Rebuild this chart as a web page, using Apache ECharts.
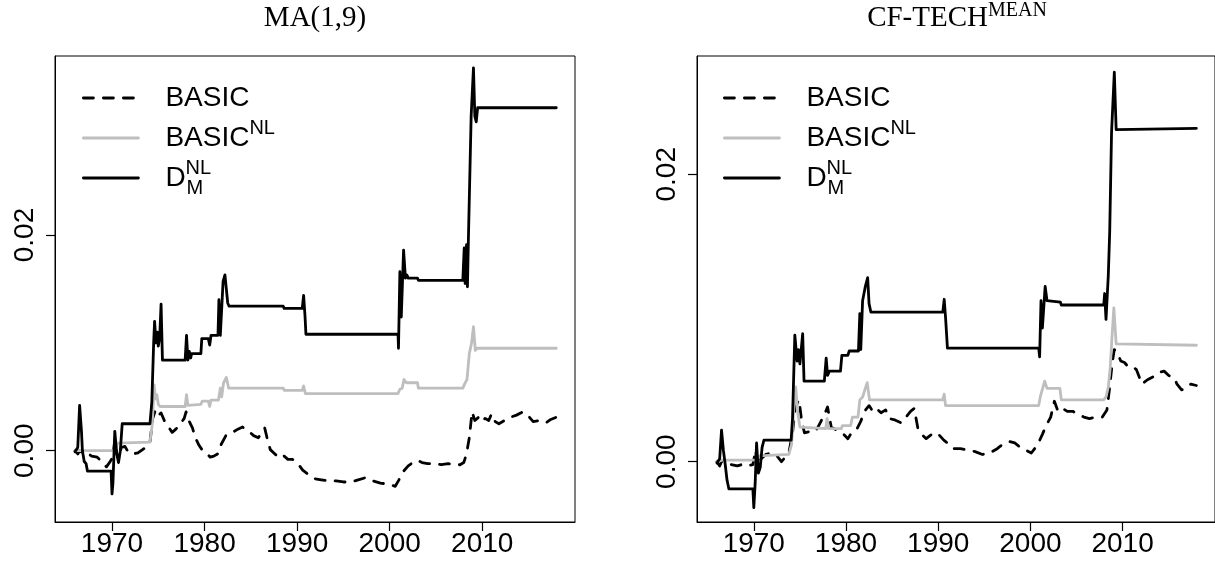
<!DOCTYPE html>
<html>
<head>
<meta charset="utf-8">
<script src="https://cdn.jsdelivr.net/npm/echarts@6.0.0/dist/echarts.min.js"></script>
<style>
  html, body { margin: 0; padding: 0; background: #fff; }
  #chart { width: 1215px; height: 565px; }
</style>
</head>
<body>
<div id="chart"></div>
<script>
// Axis ticks shared by both panels
const yearTicks = [1970, 1980, 1990, 2000, 2010];
const valueTicks = [0, 0.02];

// Panel titles
const leftTitle = 'MA(1,9)';
const rightTitle = ['CF-TECH', 'MEAN'];

// ---- MA(1,9) panel: [year, value] ----
const maBasic = [
  [1966.0, 0.0000], [1966.3, -0.0003], [1966.5, 0.0000], [1966.8, -0.0002], [1967.3, -0.0002],
  [1967.8, -0.0005], [1968.4, -0.0006], [1968.9, -0.0010], [1969.4, -0.0015], [1969.8, -0.0010],
  [1970.1, -0.0006], [1970.3, 0.0010], [1970.5, -0.0002], [1970.7, -0.0008], [1971.0, 0.0003],
  [1971.4, 0.0004], [1971.8, -0.0002], [1972.3, -0.0003], [1972.8, -0.0002], [1973.3, 0.0001],
  [1973.8, 0.0004], [1974.1, 0.0008], [1974.4, 0.0030], [1974.7, 0.0038], [1975.0, 0.0033],
  [1975.3, 0.0035], [1975.7, 0.0027], [1976.1, 0.0022], [1976.5, 0.0017], [1976.9, 0.0020],
  [1977.4, 0.0025], [1977.8, 0.0030], [1978.0, 0.0036], [1978.3, 0.0028], [1978.7, 0.0021],
  [1979.0, 0.0012], [1979.4, 0.0005], [1979.8, 0.0000], [1980.2, -0.0002], [1980.6, -0.0006],
  [1981.0, -0.0005], [1981.4, -0.0003], [1981.8, 0.0006], [1982.3, 0.0014], [1982.7, 0.0015],
  [1983.2, 0.0018], [1983.6, 0.0020], [1984.1, 0.0022], [1984.5, 0.0019], [1984.9, 0.0017],
  [1985.3, 0.0014], [1985.8, 0.0012], [1986.2, 0.0017], [1986.5, 0.0021], [1986.8, 0.0010],
  [1987.1, 0.0001], [1987.6, -0.0003], [1988.1, -0.0007], [1988.6, -0.0005], [1989.0, -0.0008],
  [1989.5, -0.0008], [1990.0, -0.0011], [1990.6, -0.0018], [1991.2, -0.0022], [1991.9, -0.0026],
  [1992.6, -0.0027], [1993.4, -0.0028], [1994.2, -0.0028], [1995.0, -0.0029], [1995.8, -0.0029],
  [1996.6, -0.0027], [1997.4, -0.0025], [1998.2, -0.0028], [1999.0, -0.0030], [1999.8, -0.0031],
  [2000.6, -0.0033], [2001.0, -0.0027], [2001.5, -0.0019], [2002.0, -0.0014], [2002.5, -0.0011],
  [2003.0, -0.0009], [2003.5, -0.0011], [2004.1, -0.0012], [2004.8, -0.0012], [2005.6, -0.0013],
  [2006.3, -0.0012], [2007.0, -0.0013], [2007.6, -0.0013], [2008.0, -0.0011], [2008.3, -0.0003],
  [2008.6, 0.0012], [2008.9, 0.0036], [2009.2, 0.0028], [2009.6, 0.0031], [2009.9, 0.0027],
  [2010.3, 0.0030], [2010.7, 0.0028], [2011.0, 0.0034], [2011.4, 0.0027], [2011.8, 0.0025],
  [2012.4, 0.0028], [2013.0, 0.0031], [2013.7, 0.0033], [2014.4, 0.0036], [2015.0, 0.0032],
  [2015.5, 0.0027], [2016.2, 0.0028], [2016.9, 0.0026], [2017.4, 0.0029], [2018.0, 0.0031]
];

const maBasicNL = [
  [1966.0, 0.0000], [1966.4, 0.0000], [1970.3, 0.0000], [1970.6, 0.0007], [1974.1, 0.0008],
  [1974.35, 0.0025], [1974.55, 0.0061], [1974.7, 0.0048], [1974.85, 0.0052], [1975.0, 0.0043],
  [1975.2, 0.0041], [1977.9, 0.0041], [1978.05, 0.0052], [1978.2, 0.0042], [1979.6, 0.0043],
  [1979.75, 0.0046], [1980.4, 0.0046], [1980.55, 0.0041], [1980.7, 0.0047], [1981.5, 0.0047],
  [1981.7, 0.0058], [1981.85, 0.0050], [1982.05, 0.0063], [1982.35, 0.0068], [1982.6, 0.0058],
  [1988.5, 0.0058], [1988.6, 0.0056], [1990.55, 0.0056], [1990.7, 0.0060], [1990.9, 0.0053],
  [2000.9, 0.0053], [2001.1, 0.0057], [2001.35, 0.0058], [2001.55, 0.0066], [2001.8, 0.0063],
  [2003.0, 0.0063], [2003.1, 0.0058], [2007.9, 0.0058], [2008.1, 0.0062], [2008.35, 0.0066],
  [2008.6, 0.0090], [2008.85, 0.0100], [2009.05, 0.0115], [2009.25, 0.0093], [2009.45, 0.0095],
  [2018.0, 0.0095]
];

const maDNL = [
  [1966.0, -0.0001], [1966.3, 0.0003], [1966.5, 0.0042], [1966.7, 0.0018], [1966.8, 0.0000],
  [1967.0, -0.0010], [1967.2, -0.0012], [1967.35, -0.0019], [1969.9, -0.0019], [1970.0, -0.0040],
  [1970.1, -0.0030], [1970.3, 0.0018], [1970.5, -0.0002], [1970.7, -0.0011], [1970.9, 0.0000],
  [1971.1, 0.0025], [1974.1, 0.0025], [1974.3, 0.0045], [1974.5, 0.0100], [1974.6, 0.0120],
  [1974.75, 0.0100], [1974.9, 0.0110], [1975.0, 0.0097], [1975.15, 0.0105], [1975.3, 0.0136],
  [1975.45, 0.0084], [1977.9, 0.0084], [1978.05, 0.0107], [1978.2, 0.0084], [1978.35, 0.0092],
  [1978.5, 0.0086], [1978.6, 0.0090], [1979.6, 0.0090], [1979.7, 0.0104], [1980.4, 0.0104],
  [1980.55, 0.0098], [1980.7, 0.0107], [1981.45, 0.0107], [1981.55, 0.0140], [1981.7, 0.0107],
  [1982.0, 0.0157], [1982.2, 0.0163], [1982.35, 0.0150], [1982.5, 0.0137], [1982.65, 0.0134],
  [1988.5, 0.0134], [1988.6, 0.0132], [1990.55, 0.0132], [1990.7, 0.0144], [1990.85, 0.0125],
  [1990.95, 0.0108], [2000.9, 0.0108], [2000.95, 0.0095], [2001.1, 0.0166], [2001.25, 0.0124],
  [2001.5, 0.0186], [2001.7, 0.0160], [2001.85, 0.0163], [2002.0, 0.0160], [2003.0, 0.0160],
  [2003.1, 0.0158], [2007.9, 0.0158], [2008.05, 0.0188], [2008.15, 0.0155], [2008.3, 0.0191],
  [2008.4, 0.0152], [2008.5, 0.0195], [2008.8, 0.0310], [2009.05, 0.0355], [2009.2, 0.0310],
  [2009.35, 0.0305], [2009.5, 0.0318], [2018.0, 0.0318]
];

// ---- CF-TECH (MEAN) panel: [year, value] ----
const cfBasic = [
  [1966.0, 0.0000], [1966.3, -0.0003], [1966.5, 0.0000], [1966.9, -0.0001], [1967.5, -0.0002],
  [1968.2, -0.0003], [1968.7, -0.0002], [1969.3, -0.0003], [1969.9, -0.0002], [1970.2, 0.0008],
  [1970.4, -0.0003], [1970.8, 0.0002], [1971.3, 0.0005], [1971.9, 0.0006], [1972.5, 0.0004],
  [1973.0, 0.0000], [1973.4, 0.0003], [1973.8, 0.0006], [1974.2, 0.0020], [1974.5, 0.0038],
  [1974.9, 0.0043], [1975.2, 0.0028], [1975.5, 0.0020], [1976.1, 0.0021], [1976.7, 0.0021],
  [1977.2, 0.0027], [1977.6, 0.0032], [1978.0, 0.0038], [1978.4, 0.0024], [1979.0, 0.0022],
  [1979.6, 0.0020], [1980.2, 0.0016], [1980.7, 0.0021], [1981.2, 0.0023], [1981.6, 0.0028],
  [1982.0, 0.0035], [1982.5, 0.0039], [1982.9, 0.0035], [1983.3, 0.0037], [1983.8, 0.0034],
  [1984.3, 0.0036], [1984.7, 0.0030], [1985.3, 0.0029], [1986.0, 0.0027], [1986.5, 0.0031],
  [1987.0, 0.0035], [1987.4, 0.0037], [1987.8, 0.0023], [1988.2, 0.0019], [1988.7, 0.0016],
  [1989.3, 0.0019], [1989.9, 0.0020], [1990.6, 0.0015], [1991.2, 0.0012], [1991.7, 0.0009],
  [1992.4, 0.0009], [1993.2, 0.0008], [1994.0, 0.0007], [1994.8, 0.0005], [1995.6, 0.0006],
  [1996.4, 0.0009], [1997.0, 0.0012], [1997.7, 0.0014], [1998.3, 0.0013], [1998.9, 0.0010],
  [1999.5, 0.0008], [2000.1, 0.0006], [2000.8, 0.0012], [2001.3, 0.0019], [2001.7, 0.0025],
  [2002.2, 0.0031], [2002.6, 0.0042], [2003.0, 0.0035], [2003.5, 0.0037], [2004.0, 0.0035],
  [2004.6, 0.0035], [2005.2, 0.0033], [2005.8, 0.0031], [2006.4, 0.0030], [2007.1, 0.0031],
  [2007.8, 0.0031], [2008.3, 0.0036], [2008.6, 0.0052], [2008.9, 0.0070], [2009.1, 0.0078],
  [2009.4, 0.0076], [2009.8, 0.0070], [2010.2, 0.0069], [2010.6, 0.0066], [2011.1, 0.0066],
  [2011.5, 0.0064], [2012.1, 0.0054], [2012.7, 0.0057], [2013.3, 0.0059], [2013.9, 0.0062],
  [2014.5, 0.0063], [2015.0, 0.0060], [2015.6, 0.0058], [2015.9, 0.0054], [2016.4, 0.0050],
  [2016.9, 0.0051], [2017.4, 0.0054], [2018.0, 0.0053]
];

const cfBasicNL = [
  [1966.0, 0.0000], [1966.6, 0.0001], [1970.2, 0.0001], [1970.5, 0.0004], [1973.8, 0.0005],
  [1974.1, 0.0012], [1974.35, 0.0038], [1974.55, 0.0052], [1974.75, 0.0035], [1975.0, 0.0024],
  [1977.8, 0.0023], [1977.95, 0.0030], [1978.1, 0.0023], [1979.5, 0.0023], [1979.6, 0.0025],
  [1980.5, 0.0025], [1980.7, 0.0031], [1981.3, 0.0031], [1981.5, 0.0043], [1981.8, 0.0045],
  [1982.05, 0.0050], [1982.3, 0.0055], [1982.55, 0.0043], [1990.5, 0.0043], [1990.65, 0.0047],
  [1990.8, 0.0039], [2000.9, 0.0039], [2001.1, 0.0046], [2001.3, 0.0047], [2001.55, 0.0056],
  [2001.8, 0.0051], [2003.2, 0.0051], [2003.35, 0.0043], [2007.95, 0.0043], [2008.2, 0.0045],
  [2008.45, 0.0052], [2008.65, 0.0065], [2008.85, 0.0087], [2009.05, 0.0107], [2009.3, 0.0082],
  [2009.5, 0.0081], [2018.0, 0.0081]
];

const cfDNL = [
  [1966.0, -0.0001], [1966.3, 0.0002], [1966.5, 0.0022], [1966.7, 0.0008], [1966.9, -0.0002],
  [1967.1, -0.0013], [1967.3, -0.0019], [1969.9, -0.0019], [1970.0, -0.0032], [1970.15, -0.0015],
  [1970.3, 0.0013], [1970.5, -0.0008], [1970.7, -0.0004], [1970.9, 0.0010], [1971.1, 0.0015],
  [1974.05, 0.0015], [1974.2, 0.0030], [1974.45, 0.0088], [1974.7, 0.0070], [1974.85, 0.0078],
  [1975.0, 0.0068], [1975.3, 0.0089], [1975.45, 0.0056], [1977.65, 0.0056], [1977.85, 0.0072],
  [1978.0, 0.0060], [1978.2, 0.0063], [1979.4, 0.0063], [1979.55, 0.0074], [1980.2, 0.0074],
  [1980.35, 0.0077], [1981.35, 0.0077], [1981.5, 0.0103], [1981.6, 0.0078], [1981.8, 0.0112],
  [1982.1, 0.0122], [1982.35, 0.0128], [1982.5, 0.0110], [1982.7, 0.0104], [1990.5, 0.0104],
  [1990.65, 0.0113], [1990.8, 0.0100], [1991.0, 0.0079], [2000.9, 0.0079], [2001.0, 0.0073],
  [2001.15, 0.0112], [2001.3, 0.0093], [2001.6, 0.0122], [2001.8, 0.0112], [2002.0, 0.0111],
  [2003.25, 0.0111], [2003.35, 0.0109], [2007.95, 0.0109], [2008.05, 0.0117], [2008.2, 0.0099],
  [2008.45, 0.0130], [2008.6, 0.0160], [2008.8, 0.0229], [2009.1, 0.0271], [2009.3, 0.0231],
  [2009.5, 0.0232], [2018.0, 0.0232]
];

const SANS = 'Liberation Sans, Arial, sans-serif';
const SERIF = 'Liberation Serif, Times New Roman, serif';
const GRAY = '#bebebe';

const chart = echarts.init(document.getElementById('chart'), null, { renderer: 'canvas' });

function xAxisFor(gridIndex) {
  return {
    gridIndex, type: 'value', position: 'bottom', min: 1963.84, max: 2020.02,
    axisLine: { show: true, onZero: false, lineStyle: { color: '#000', width: 1 } },
    splitLine: { show: false },
    axisTick: { show: true, inside: false, length: 9, customValues: yearTicks, lineStyle: { color: '#000', width: 1.2 } },
    axisLabel: { customValues: yearTicks, fontSize: 28, fontFamily: SANS, color: '#000', margin: 8,
                 formatter: v => String(v) }
  };
}
function yAxisFor(gridIndex, min, max) {
  return {
    gridIndex, type: 'value', position: 'left', min, max,
    axisLine: { show: true, onZero: false, lineStyle: { color: '#000', width: 1 } },
    splitLine: { show: false },
    axisTick: { show: true, inside: false, length: 9, customValues: valueTicks, lineStyle: { color: '#000', width: 1.2 } },
    axisLabel: { customValues: valueTicks, fontSize: 28, fontFamily: SANS, color: '#000', margin: 16,
                 rotate: 90, formatter: v => v.toFixed(2) }
  };
}
function lineSeries(name, data, idx, color, dashed) {
  return {
    name, type: 'line', data, xAxisIndex: idx, yAxisIndex: idx,
    symbol: 'none', showSymbol: false, animation: false, silent: true,
    itemStyle: { color },
    lineStyle: { color, width: 2.8, type: dashed ? [10, 10] : 'solid', cap: 'round', join: 'round' }
  };
}

const legendRich = {
  m: { fontSize: 28, lineHeight: 40, padding: [0, 0, 0, 22], fontFamily: SANS, color: '#000' },
  sup: { fontSize: 20, lineHeight: 18, verticalAlign: 'top', fontFamily: SANS, color: '#000' },
  supStack: { fontSize: 20, lineHeight: 18, width: 1, verticalAlign: 'top', fontFamily: SANS, color: '#000' },
  sub: { fontSize: 20, lineHeight: 18, verticalAlign: 'bottom', fontFamily: SANS, color: '#000' }
};
const legendNames = ['BASIC', 'BASIC_NL', 'D_M_NL'];
const legendText = {
  BASIC: '{m|BASIC}',
  BASIC_NL: '{m|BASIC}{sup|NL}',
  D_M_NL: '{m|D}{supStack|NL}{sub|M}'
};
function legendAt(left) {
  return {
    data: legendNames, orient: 'vertical', left, top: 84, padding: 0, itemGap: 6,
    itemWidth: 55, itemHeight: 14, selectedMode: false,
    itemStyle: { opacity: 0, borderWidth: 0 },
    lineStyle: { width: 2.8, opacity: 1 },
    formatter: n => legendText[n],
    textStyle: { fontSize: 28, fontFamily: SANS, color: '#000', rich: legendRich }
  };
}

const titleRich = {
  t: { fontFamily: SERIF, fontSize: 29, fontWeight: 'normal', lineHeight: 34, color: '#000' },
  s: { fontFamily: SERIF, fontSize: 20, fontWeight: 'normal', lineHeight: 20, verticalAlign: 'top', color: '#000' }
};

chart.setOption({
  animation: false,
  backgroundColor: '#fff',
  title: [
    { text: '{t|' + leftTitle + '}', left: 315, top: 1, padding: 0, textAlign: 'center',
      textStyle: { fontWeight: 'normal', rich: titleRich } },
    { text: '{t|' + rightTitle[0] + '}{s|' + rightTitle[1] + '}', left: 957, top: 1, padding: 0, textAlign: 'center',
      textStyle: { fontWeight: 'normal', rich: titleRich } }
  ],
  grid: [
    { left: 55, top: 56, width: 520, height: 466, show: true, borderColor: '#000', borderWidth: 1, backgroundColor: 'transparent' },
    { left: 697, top: 56, width: 519, height: 466, show: true, borderColor: '#000', borderWidth: 1, backgroundColor: 'transparent' }
  ],
  xAxis: [xAxisFor(0), xAxisFor(1)],
  yAxis: [yAxisFor(0, -0.00661, 0.0366), yAxisFor(1, -0.0042, 0.02823)],
  legend: [legendAt(82), legendAt(723)],
  series: [
    lineSeries('BASIC', maBasic, 0, '#000', true),
    lineSeries('BASIC_NL', maBasicNL, 0, GRAY, false),
    lineSeries('D_M_NL', maDNL, 0, '#000', false),
    lineSeries('BASIC', cfBasic, 1, '#000', true),
    lineSeries('BASIC_NL', cfBasicNL, 1, GRAY, false),
    lineSeries('D_M_NL', cfDNL, 1, '#000', false)
  ]
});
</script>
</body>
</html>
